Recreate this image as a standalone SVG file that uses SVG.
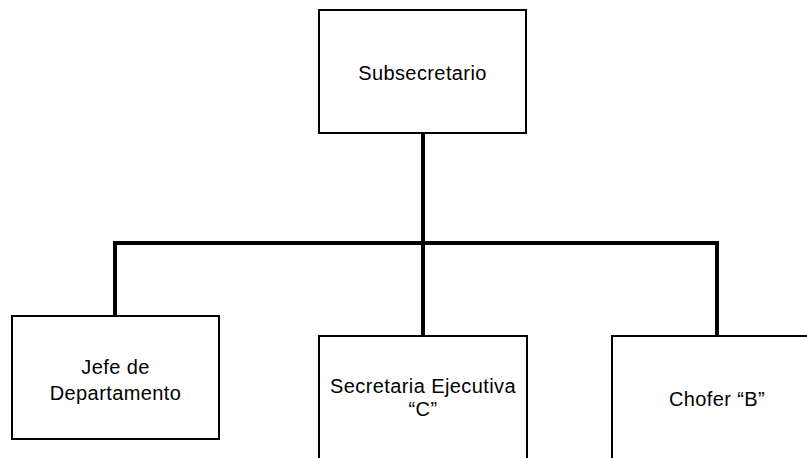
<svg xmlns="http://www.w3.org/2000/svg" width="807" height="458" viewBox="0 0 807 458">
<style>
.box{fill:#fff;stroke:#000;stroke-width:2}
.conn{fill:none;stroke:#000;stroke-width:4}
text{font-family:"Liberation Sans",Arial,sans-serif;font-size:20px;letter-spacing:0.4px;fill:#000;text-anchor:middle}
</style>
<rect width="807" height="458" fill="#fff"/>
<g id="connectors">
<path class="conn" d="M423,133 V243"/>
<path class="conn" d="M115,317 V243 H717 V336"/>
<path class="conn" d="M423,243 V336"/>
</g>
<g id="subsecretario">
<rect class="box" x="319" y="10" width="207" height="123"/>
<text x="422.5" y="80">Subsecretario</text>
</g>
<g id="jefe">
<rect class="box" x="12" y="316" width="207" height="123"/>
<text x="115.5" y="374">Jefe de</text>
<text x="115.5" y="400">Departamento</text>
</g>
<g id="secretaria">
<rect class="box" x="319" y="336" width="208" height="130"/>
<text x="423" y="393">Secretaria Ejecutiva</text>
<text x="423" y="416">“C”</text>
</g>
<g id="chofer">
<rect class="box" x="612" y="336" width="210" height="130"/>
<text x="717" y="406">Chofer “B”</text>
</g>
</svg>
